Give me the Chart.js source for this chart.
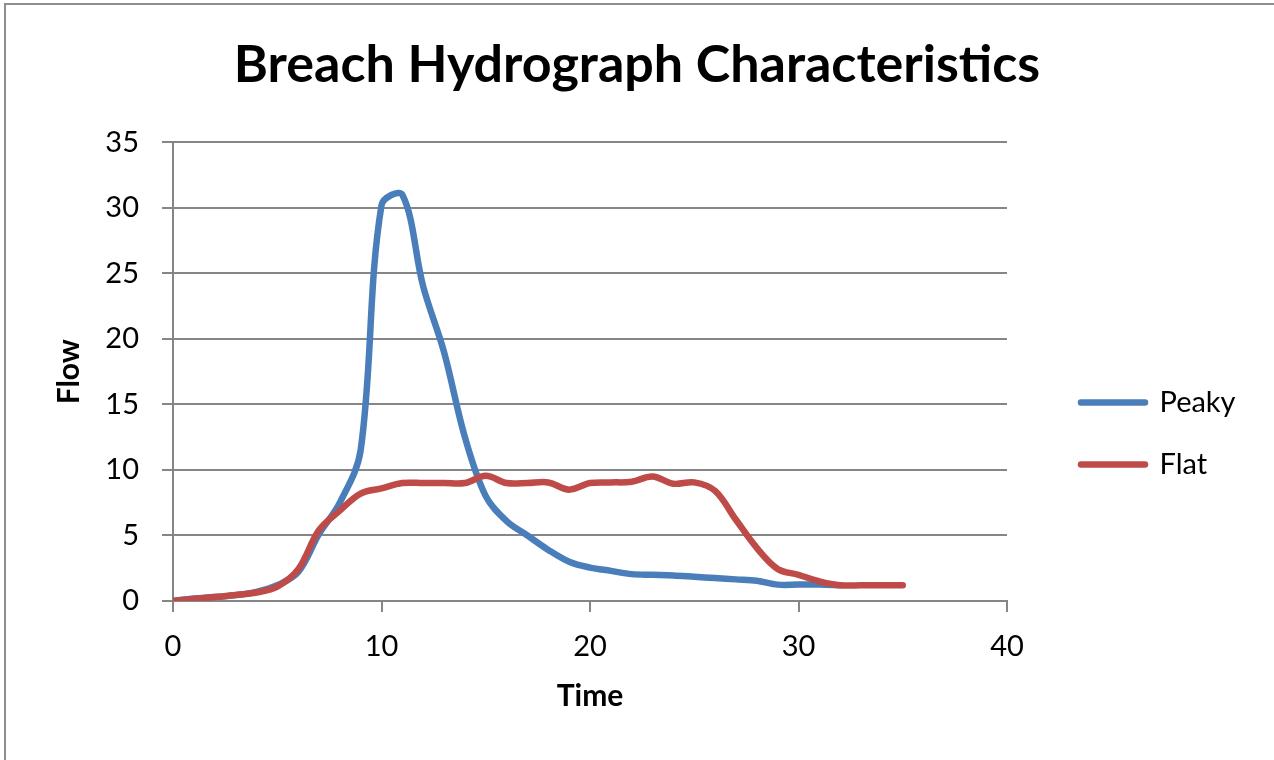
<!DOCTYPE html>
<html>
<head>
<meta charset="utf-8">
<title>Breach Hydrograph Characteristics</title>
<script src="https://cdn.jsdelivr.net/npm/chart.js@4/dist/chart.umd.min.js"></script>
<style>
  html, body { margin: 0; padding: 0; background: #fff; }
  #wrap { position: relative; width: 1274px; height: 760px; overflow: hidden; }
  #frame {
    position: absolute; left: 4px; top: 3px; width: 1300px; height: 800px;
    border-left: 2px solid #8e8e8e; border-top: 2px solid #8e8e8e;
    pointer-events: none;
  }
  canvas { display: block; }
</style>
</head>
<body>
<div id="wrap">
  <canvas id="hydroChart" width="1274" height="760"></canvas>
  <div id="frame"></div>
</div>
<script>
// Time steps and flows for the two breach scenarios
const timeSteps = [0, 1, 2, 3, 4, 5, 6, 7, 8, 9, 10, 11, 12, 13, 14, 15, 16, 17,
  18, 19, 20, 21, 22, 23, 24, 25, 26, 27, 28, 29, 30, 31, 32, 33, 34, 35]
const peakyFlow = [0, 0.2, 0.3, 0.45, 0.7, 1.2, 2.2, 5.1, 7.5, 11.5, 30.2, 31.0,
  24, 19, 12.5, 8.0, 6.1, 5.0, 3.9, 3.0, 2.55, 2.3, 2.05, 2.0, 1.95, 1.85, 1.75,
  1.65, 1.55, 1.25, 1.25, 1.25, 1.2]
const flatFlow = [0, 0.15, 0.3, 0.45, 0.65, 1.1, 2.4, 5.4, 6.9, 8.2, 8.6, 9.0,
  9.0, 9.0, 9.0, 9.55, 9.0, 9.0, 9.05, 8.5, 9.0, 9.05, 9.1, 9.5, 8.95, 9.05, 8.4,
  6.2, 4.05, 2.45, 2.0, 1.5, 1.2, 1.2, 1.2, 1.2]
const xTicks = [0, 10, 20, 30, 40]
const yTicks = [0, 5, 10, 15, 20, 25, 30, 35]

const toPoints = (ys) => ys.map((y, i) => ({ x: timeSteps[i], y }))

const FONT = "Lato"
const GRID = "#868686"
const LINE_W = 6.5

// plot area edges
const AREA_LEFT = 173
const AREA_RIGHT = 1007
const AREA_BOTTOM = 601

// keep the legend column at a fixed width and place it by hand
const legendPlace = {
  id: "legendPlace",
  beforeLayout(chart) {
    const lg = chart.legend
    if (lg && !lg._fixedWidth) {
      const fit = lg.fit
      lg.fit = function () {
        fit.call(this)
        this.width = chart.width - AREA_RIGHT
      }
      lg._fixedWidth = true
    }
  },
  afterLayout(chart) {
    const lg = chart.legend
    if (!lg) return
    const h = lg.bottom - lg.top
    lg.left = 1048
    lg.right = chart.width
    lg.top = 355
    lg.bottom = lg.top + h
  },
}

// legend samples drawn as thick rounded strokes like the series
const legendLabels = (chart) =>
  Chart.defaults.plugins.legend.labels.generateLabels(chart).map((item) => {
    const ds = chart.data.datasets[item.datasetIndex]
    return { ...item, lineWidth: LINE_W, lineCap: "round", strokeStyle: ds.borderColor, fillStyle: ds.borderColor }
  })

new Chart(document.getElementById("hydroChart"), {
  type: "line",
  data: {
    datasets: [
      {
        label: "Peaky",
        data: toPoints(peakyFlow),
        borderColor: "#4A7EBB",
        backgroundColor: "#4A7EBB",
        order: 1,
      },
      {
        label: "Flat",
        data: toPoints(flatFlow),
        borderColor: "#BE4B48",
        backgroundColor: "#BE4B48",
        order: 0,
      },
    ],
  },
  options: {
    responsive: false,
    animation: false,
    devicePixelRatio: 1,
    layout: { padding: { left: 0, right: 0, top: 0, bottom: 0 } },
    elements: {
      line: {
        borderWidth: LINE_W,
        tension: 0.35,
        borderCapStyle: "round",
        borderJoinStyle: "round",
        fill: false,
      },
      point: { radius: 0, hoverRadius: 0 },
    },
    plugins: {
      tooltip: { enabled: false },
      title: {
        display: true,
        text: "Breach Hydrograph Characteristics",
        color: "#000",
        font: { family: FONT, size: 52, weight: "bold" },
        padding: { top: 34, bottom: 46 },
      },
      legend: {
        position: "right",
        align: "start",
        labels: {
          generateLabels: legendLabels,
          sort: (a, b) => a.datasetIndex - b.datasetIndex,
          usePointStyle: true,
          pointStyle: "line",
          pointStyleWidth: 64,
          boxHeight: 29,
          padding: 33,
          color: "#000",
          font: { family: FONT, size: 29 },
        },
      },
    },
    scales: {
      x: {
        type: "linear",
        min: 0,
        max: 40,
        afterFit: (scale) => { scale.height = 760 - AREA_BOTTOM },
        afterBuildTicks: (scale) => { scale.ticks = xTicks.map((v) => ({ value: v })) },
        border: { color: GRID, width: 2 },
        grid: { drawOnChartArea: false, drawTicks: true, tickLength: 11, color: GRID, lineWidth: 2 },
        ticks: {
          color: "#000",
          padding: 17,
          maxRotation: 0,
          font: { family: FONT, size: 29 },
        },
        title: {
          display: true,
          text: "Time",
          color: "#000",
          font: { family: FONT, size: 30, weight: "bold" },
          padding: { top: 0, bottom: 46 },
        },
      },
      y: {
        min: 0,
        max: 35,
        afterFit: (scale) => { scale.width = AREA_LEFT },
        afterBuildTicks: (scale) => { scale.ticks = yTicks.map((v) => ({ value: v })) },
        border: { color: GRID, width: 2 },
        grid: { drawOnChartArea: true, drawTicks: true, tickLength: 11, color: GRID, lineWidth: 2 },
        ticks: {
          color: "#000",
          padding: 23,
          font: { family: FONT, size: 29 },
        },
        title: {
          display: true,
          text: "Flow",
          color: "#000",
          font: { family: FONT, size: 30, weight: "bold" },
          padding: { top: 51, bottom: 0 },
        },
      },
    },
  },
  plugins: [legendPlace],
})
</script>
</body>
</html>
